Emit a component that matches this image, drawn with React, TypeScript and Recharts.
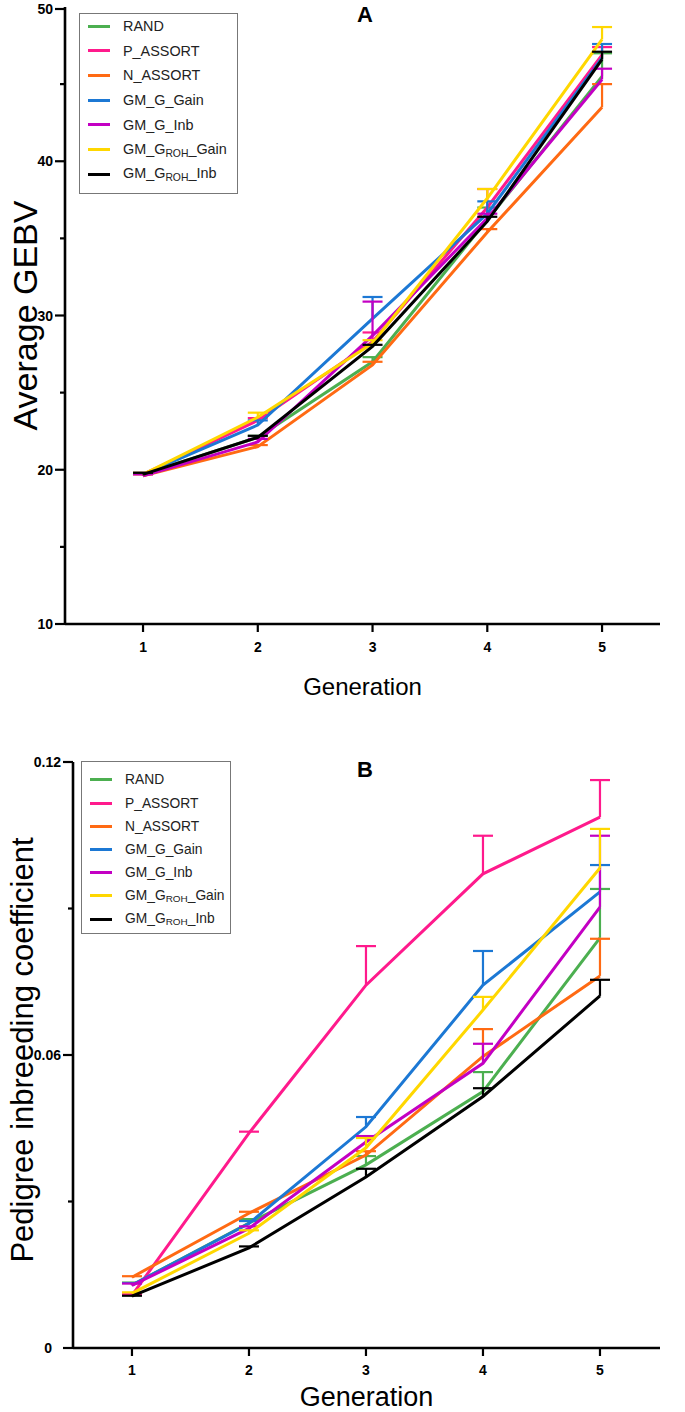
import React from 'react';
import { LineChart, Line, XAxis, YAxis, ErrorBar, Legend } from 'recharts';

// ---------- data ----------
const generations = [1, 2, 3, 4, 5];
const seriesKeys = ['rand', 'passort', 'nassort', 'gGain', 'gInb', 'rohGain', 'rohInb'];
const legendLabels = ['RAND', 'P_ASSORT', 'N_ASSORT', 'GM_G_Gain', 'GM_G_Inb', 'GM_G{ROH}_Gain', 'GM_G{ROH}_Inb'];
const seriesColors = ['#4CAF50', '#FF1A8C', '#FF6A13', '#1C78D4', '#C300C3', '#FFD700', '#000000'];

// Panel A: Average GEBV (mean, upper error)
const gebvRAND = [19.7, 22.1, 27.0, 36.2, 45.5];
const gebvRANDErr = [0.1, 0.1, 0.3, 0.8, 1.5];
const gebvPASSORT = [19.7, 23.2, 28.3, 37.0, 46.9];
const gebvPASSORTErr = [0.1, 0.15, 0.6, 1.2, 0.5];
const gebvNASSORT = [19.6, 21.5, 26.8, 35.4, 43.5];
const gebvNASSORTErr = [0.1, 0.1, 0.2, 0.2, 1.5];
const gebvGGain = [19.7, 22.9, 29.8, 36.6, 46.7];
const gebvGGainErr = [0.1, 0.3, 1.4, 0.8, 0.9];
const gebvGInb = [19.6, 21.8, 28.7, 36.3, 45.3];
const gebvGInbErr = [0.1, 0.2, 2.2, 0.3, 0.7];
const gebvROHGain = [19.7, 23.4, 28.2, 37.6, 47.9];
const gebvROHGainErr = [0.1, 0.3, 0.2, 0.6, 0.8];
const gebvROHInb = [19.7, 22.1, 28.0, 36.1, 46.6];
const gebvROHInbErr = [0.1, 0.1, 0.1, 0.3, 0.5];

// Panel B: Pedigree inbreeding coefficient (mean, upper error)
const fRAND = [0.0129, 0.0256, 0.0375, 0.0525, 0.084];
const fRANDErr = [0.0005, 0.0008, 0.0018, 0.004, 0.01];
const fPASSORT = [0.0108, 0.044, 0.0743, 0.0971, 0.1087];
const fPASSORTErr = [0.0002, 0.0003, 0.008, 0.0078, 0.0076];
const fNASSORT = [0.0145, 0.0276, 0.0395, 0.0597, 0.0762];
const fNASSORTErr = [0.0002, 0.0003, 0.0008, 0.0056, 0.0076];
const fGGain = [0.0129, 0.0255, 0.0453, 0.0743, 0.0934];
const fGGainErr = [0.0004, 0.0005, 0.002, 0.007, 0.0055];
const fGInb = [0.0128, 0.0245, 0.0422, 0.0583, 0.0903];
const fGInbErr = [0.0004, 0.0004, 0.0012, 0.004, 0.0146];
const fROHGain = [0.0112, 0.0235, 0.041, 0.0692, 0.0983];
const fROHGainErr = [0.0002, 0.0006, 0.002, 0.0027, 0.008];
const fROHInb = [0.0106, 0.0205, 0.035, 0.0515, 0.0721];
const fROHInbErr = [0.0001, 0.0003, 0.0017, 0.0017, 0.0033];

const gebvTicks = [10, 15, 20, 25, 30, 35, 40, 45, 50];
const gebvMajor = [10, 20, 30, 40, 50];
const fTicks = [0, 0.03, 0.06, 0.09, 0.12];
const fMajor = [0, 0.06, 0.12];

const gebvMeans = [gebvRAND, gebvPASSORT, gebvNASSORT, gebvGGain, gebvGInb, gebvROHGain, gebvROHInb];
const gebvErrs = [gebvRANDErr, gebvPASSORTErr, gebvNASSORTErr, gebvGGainErr, gebvGInbErr, gebvROHGainErr, gebvROHInbErr];
const fMeans = [fRAND, fPASSORT, fNASSORT, fGGain, fGInb, fROHGain, fROHInb];
const fErrs = [fRANDErr, fPASSORTErr, fNASSORTErr, fGGainErr, fGInbErr, fROHGainErr, fROHInbErr];

const buildRows = (means: number[][], errs: number[][]) =>
  generations.map((g, i) => {
    const row: any = { gen: g };
    seriesKeys.forEach((k, s) => {
      row[k] = means[s][i];
      row[k + 'Err'] = [0, errs[s][i]];
    });
    return row;
  });

const rowsA = buildRows(gebvMeans, gebvErrs);
const rowsB = buildRows(fMeans, fErrs);

// ---------- styling helpers ----------
const FONT = '"Liberation Sans", Arial, Helvetica, sans-serif';

const renderLabel = (label: string) => {
  const m = label.match(/^(.*)\{(.*)\}(.*)$/);
  if (!m) return label;
  return (
    <>
      {m[1]}
      <sub style={{ fontSize: '72%', verticalAlign: '-0.25em' }}>{m[2]}</sub>
      {m[3]}
    </>
  );
};

const LegendBox = ({ width, rowH, padTop, padBottom, fontSize }: any) => (
  <div
    style={{
      border: '1px solid #777',
      background: '#fff',
      width,
      paddingTop: padTop,
      paddingBottom: padBottom,
      boxSizing: 'border-box',
    }}
  >
    {legendLabels.map((l, i) => (
      <div key={l} style={{ display: 'flex', alignItems: 'center', height: rowH }}>
        <span
          style={{
            display: 'inline-block',
            width: 22,
            height: 3,
            background: seriesColors[i],
            marginLeft: 8,
            marginRight: 13,
          }}
        />
        <span style={{ fontSize, fontFamily: FONT, color: '#222', whiteSpace: 'nowrap' }}>{renderLabel(l)}</span>
      </div>
    ))}
  </div>
);

const makeYTick = (
  majors: number[],
  fmt: (v: number) => string,
  tickSize: number,
  tickMargin: number,
  fontSize: number,
  zeroShift: number
) =>
  (props: any) => {
    const { x, y, payload } = props;
    const v = payload.value;
    const isMajor = majors.some((m) => Math.abs(m - v) < 1e-9);
    const axisX = x + tickSize + tickMargin;
    return (
      <g>
        <line
          x1={axisX - (isMajor ? tickSize : tickSize / 2)}
          x2={axisX}
          y1={y}
          y2={y}
          stroke="#000"
          strokeWidth={2.2}
        />
        {isMajor && (
          <text
            x={x - (v === 0 ? zeroShift : 0)}
            y={y}
            dy="0.36em"
            textAnchor="end"
            fontSize={fontSize}
            fontWeight="bold"
            fontFamily={FONT}
            fill="#000"
          >
            {fmt(v)}
          </text>
        )}
      </g>
    );
  };

const YTitle = (props: any) => {
  const { viewBox, text, cx, fontSize, shift } = props;
  const cy = viewBox.y + viewBox.height / 2 + (shift || 0);
  return (
    <text
      x={cx}
      y={cy}
      transform={`rotate(-90 ${cx} ${cy})`}
      textAnchor="middle"
      dominantBaseline="central"
      fontSize={fontSize}
      fontFamily={FONT}
      fill="#000"
    >
      {text}
    </text>
  );
};

const XTitle = (props: any) => {
  const { viewBox, text, dy, fontSize } = props;
  const cx = viewBox.x + viewBox.width / 2;
  const cy = viewBox.y + dy;
  return (
    <text x={cx} y={cy} textAnchor="middle" dominantBaseline="central" fontSize={fontSize} fontFamily={FONT} fill="#000">
      {text}
    </text>
  );
};

const Panel = (p: any) => (
  <div style={{ position: 'absolute', left: 0, top: p.top, width: 685, height: p.height }}>
    <LineChart
      width={685}
      height={p.height}
      data={p.rows}
      margin={{ top: p.marginTop, right: 25, bottom: 0, left: p.plotLeft - 60 }}
    >
      <XAxis
        dataKey="gen"
        type="number"
        domain={p.xDomain}
        ticks={generations}
        allowDataOverflow
        height={p.height - p.marginTop - p.plotHeight}
        axisLine={{ stroke: '#000', strokeWidth: 2.6 }}
        tickLine={{ stroke: '#000', strokeWidth: 2.2 }}
        tickSize={8}
        tickMargin={p.xTickMargin}
        tick={{ fontSize: 14, fontWeight: 'bold', fontFamily: FONT, fill: '#000' }}
        label={<XTitle text="Generation" dy={p.xTitleDy} fontSize={p.xTitleSize} />}
      />
      <YAxis
        type="number"
        domain={p.yDomain}
        ticks={p.yTicks}
        allowDataOverflow
        width={60}
        axisLine={{ stroke: '#000', strokeWidth: 2.6 }}
        tickLine={false}
        tickSize={10}
        tickMargin={2}
        tick={makeYTick(p.majors, p.fmt, 10, 2, 14, p.zeroShift)}
        label={<YTitle text={p.yTitle} cx={p.yTitleX} fontSize={p.yTitleSize} shift={p.yTitleShift} />}
      />
      {seriesKeys.map((k, i) => (
        <Line
          key={k}
          dataKey={k}
          name={legendLabels[i]}
          stroke={seriesColors[i]}
          strokeWidth={3}
          dot={false}
          activeDot={false}
          isAnimationActive={false}
        >
          <ErrorBar dataKey={k + 'Err'} direction="y" width={10} stroke={seriesColors[i]} strokeWidth={2.2} isAnimationActive={false} />
        </Line>
      ))}
      <Legend
        layout="vertical"
        align="center"
        verticalAlign="middle"
        wrapperStyle={{ position: 'absolute', left: p.legendLeft, top: p.legendTop, width: p.legendWidth, height: 'auto' }}
        content={() => (
          <LegendBox width={p.legendWidth} rowH={p.legendRowH} padTop={p.legendPadTop} padBottom={p.legendPadBottom} fontSize={p.legendFont} />
        )}
      />
    </LineChart>
    <div
      style={{
        position: 'absolute',
        left: 345,
        width: 40,
        top: p.letterTop,
        textAlign: 'center',
        fontFamily: FONT,
        fontWeight: 'bold',
        fontSize: 22,
        lineHeight: '22px',
      }}
    >
      {p.letter}
    </div>
  </div>
);

export default function App() {
  return (
    <div style={{ position: 'absolute', left: 0, top: 0, width: 685, height: 1412, background: '#fff' }}>
      <style>{`.recharts-errorBar line:nth-of-type(3){display:none}`}</style>
      <Panel
        top={0}
        height={720}
        rows={rowsA}
        marginTop={7}
        plotHeight={617}
        plotLeft={65}
        xDomain={[0.32, 5.505]}
        yDomain={[10, 50]}
        yTicks={gebvTicks}
        majors={gebvMajor}
        fmt={(v: number) => String(v)}
        zeroShift={0}
        xTickMargin={10}
        xTitleDy={62}
        xTitleSize={24}
        yTitle="Average GEBV"
        yTitleX={25}
        yTitleSize={34}
        yTitleShift={0}
        legendLeft={79}
        legendTop={12.7}
        legendWidth={159}
        legendRowH={24.7}
        legendPadTop={0}
        legendPadBottom={6}
        legendFont={14.4}
        letter="A"
        letterTop={4}
      />
      <Panel
        top={740}
        height={672}
        rows={rowsB}
        marginTop={22}
        plotHeight={586}
        plotLeft={73}
        xDomain={[0.496, 5.513]}
        yDomain={[0, 0.12]}
        yTicks={fTicks}
        majors={fMajor}
        fmt={(v: number) => (v === 0 ? '0' : v.toFixed(2))}
        zeroShift={9}
        xTickMargin={9}
        xTitleDy={49}
        xTitleSize={27}
        yTitle="Pedigree inbreeding coefficient"
        yTitleX={22}
        yTitleSize={31}
        yTitleShift={-5}
        legendLeft={81}
        legendTop={21}
        legendWidth={150}
        legendRowH={23.2}
        legendPadTop={6.4}
        legendPadBottom={2}
        legendFont={13.8}
        letter="B"
        letterTop={19}
      />
    </div>
  );
}
